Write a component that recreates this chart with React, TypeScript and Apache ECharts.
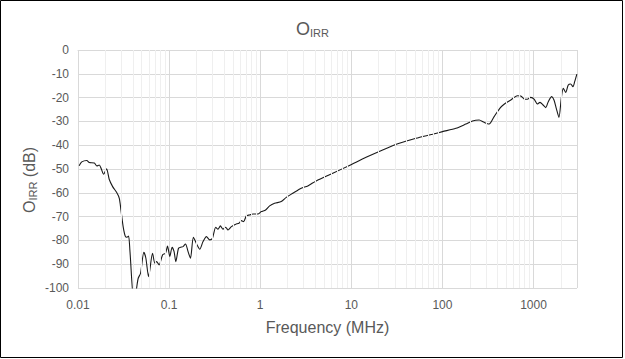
import React, { useEffect, useRef } from "react";
import * as echarts from "echarts";

const freqMHz: number[] = [
  0.0103, 0.011, 0.0125, 0.0133, 0.0151, 0.0161, 0.0171, 0.018, 0.0191, 0.0206,
  0.022, 0.024, 0.0265, 0.0284, 0.0296, 0.0313, 0.033, 0.0344, 0.0359, 0.0371,
  0.041, 0.042, 0.044, 0.0458, 0.0486, 0.0528, 0.0556, 0.0595, 0.0658, 0.0697,
  0.0728, 0.0777, 0.0847, 0.0913, 0.0961, 0.1018, 0.1079, 0.1134, 0.1184, 0.1268,
  0.1333, 0.1423, 0.1512, 0.1615, 0.1716, 0.1848, 0.2026, 0.2169, 0.2357, 0.2568,
  0.2791, 0.2988, 0.3248, 0.3441, 0.3656, 0.3904, 0.4178, 0.4429, 0.4826, 0.5378,
  0.5846, 0.6209, 0.6579, 0.7045, 0.7655, 0.8318, 0.9436, 1.028, 1.146, 1.268,
  1.438, 1.702, 1.932, 2.281, 2.82, 3.331, 4.117, 6.257, 9.533, 14.53,
  22.07, 33.63, 51.25, 77.93, 100.3, 140.6, 180.9, 213.7, 253.1, 287,
  325.5, 369.4, 426.4, 475.3, 562.8, 664.7, 724.1, 807, 855, 932,
  1013, 1101, 1178, 1271, 1360, 1452, 1582, 1677, 1777, 1902,
  2016, 2121, 2253, 2406, 2555, 2708, 2828, 2990,
];

const oirrDb: number[] = [
  -48.6, -47.0, -46.4, -47.3, -47.5, -48.7, -48.3, -49.9, -52.2, -49.9,
  -54.3, -57.4, -59.8, -62.3, -67.2, -74.2, -78.2, -78.7, -78.2, -84.0,
  -106, -106, -100, -95.9, -93.8, -85.0, -87.5, -95.2, -85.4, -89.6,
  -88.9, -90.3, -86.1, -85.4, -82.4, -86.8, -82.9, -84.7, -88.9, -83.3,
  -82.9, -82.6, -81.5, -84.7, -87.5, -78.7, -81.9, -83.7, -80.5, -78.4,
  -79.8, -79.1, -74.5, -75.3, -73.9, -75.3, -74.5, -75.6, -74.2, -73.2,
  -72.8, -71.7, -72.1, -69.7, -69.3, -68.9, -68.9, -67.9, -67.2, -65.5,
  -64.4, -63.7, -61.9, -60.2, -58.1, -57.1, -55.0, -51.8, -48.5, -45.1,
  -42.0, -39.2, -37.1, -35.4, -34.3, -32.9, -31.1, -29.8, -29.4, -30.4,
  -31.1, -28.0, -24.5, -22.8, -21.0, -19.2, -19.3, -20.7, -20.7, -19.9,
  -20.6, -22.7, -22.0, -23.1, -24.2, -21.7, -19.6, -21.0, -24.5, -28.3,
  -20.3, -16.1, -17.8, -14.7, -14.3, -15.4, -13.3, -10.1,
];

const xTickLabels: number[] = [0.01, 0.1, 1, 10, 100, 1000];
const minorGridFreqs: number[] = [
  0.02, 0.03, 0.04, 0.05, 0.06, 0.07, 0.08, 0.09,
  0.2, 0.3, 0.4, 0.5, 0.6, 0.7, 0.8, 0.9,
  2, 3, 4, 5, 6, 7, 8, 9,
  20, 30, 40, 50, 60, 70, 80, 90,
  200, 300, 400, 500, 600, 700, 800, 900,
  2000,
];

const FONT = "'Liberation Sans', Arial, sans-serif";
const GREY = "#595959";

export default function App() {
  const ref = useRef<HTMLDivElement>(null);

  useEffect(() => {
    document.body.style.margin = "0";
    if (!ref.current) return;
    const chart = echarts.init(ref.current, undefined, { renderer: "svg" });
    const data = freqMHz.map((f, i) => [f, oirrDb[i]]);
    chart.setOption({
      animation: false,
      backgroundColor: "#ffffff",
      textStyle: { fontFamily: FONT },
      title: {
        text: "{a|O}{b|IRR}",
        left: "center",
        top: 14,
        textStyle: {
          fontWeight: "normal",
          rich: {
            a: { fontSize: 18, color: GREY, fontFamily: FONT, fontWeight: "normal" },
            b: { fontSize: 11, color: GREY, fontFamily: FONT, fontWeight: "normal", verticalAlign: "bottom", padding: [8, 0, 0, 0] },
          },
        },
      },
      grid: { left: 78, right: 48, top: 50, bottom: 71, containLabel: false },
      xAxis: {
        type: "log",
        logBase: 10,
        min: 0.01,
        max: 3000,
        name: "Frequency (MHz)",
        nameLocation: "middle",
        nameGap: 31,
        nameTextStyle: { fontSize: 16, color: GREY, fontFamily: FONT },
        axisLine: { show: true, lineStyle: { color: "#d9d9d9", width: 1 } },
        axisTick: { show: false },
        splitLine: { show: true, lineStyle: { color: "#d9d9d9", width: 1 } },
        axisLabel: {
          color: GREY,
          fontSize: 12,
          fontFamily: FONT,
          margin: 11,
          formatter: (v: number) => {
            const hit = xTickLabels.find((t) => Math.abs(t - v) / t < 1e-6);
            return hit !== undefined ? String(hit) : "";
          },
        },
      },
      yAxis: {
        type: "value",
        min: -100,
        max: 0,
        interval: 10,
        axisLine: { show: false },
        axisTick: { show: false },
        splitLine: { show: true, lineStyle: { color: "#d9d9d9", width: 1 } },
        axisLabel: { color: GREY, fontSize: 12, fontFamily: FONT, margin: 9 },
      },
      graphic: [
        {
          type: "rect",
          shape: { x: 0.5, y: 0.5, width: 622, height: 357 },
          style: { fill: "none", stroke: "#000000", lineWidth: 1 },
          silent: true,
        },
        {
          type: "text",
          x: 29,
          y: 180,
          rotation: Math.PI / 2,
          style: {
            text: "{a|O}{b|IRR}{a| (dB)}",
            align: "center",
            verticalAlign: "middle",
            rich: {
              a: { fontSize: 16, fill: GREY, fontFamily: FONT },
              b: { fontSize: 11, fill: GREY, fontFamily: FONT, verticalAlign: "bottom", padding: [7, 0, 0, 0] },
            },
          },
          silent: true,
        },
      ],
      series: [
        {
          type: "line",
          data: [],
          z: 1,
          silent: true,
          markLine: {
            silent: true,
            symbol: "none",
            animation: false,
            label: { show: false },
            lineStyle: { color: "#efefef", type: "solid", width: 1 },
            data: minorGridFreqs.map((f) => ({ xAxis: f })),
          },
        },
        {
          type: "line",
          data,
          z: 3,
          showSymbol: false,
          smooth: 0.25,
          clip: true,
          lineStyle: { color: "#1a1a1a", width: 1.1 },
        },
      ],
    });
    return () => chart.dispose();
  }, []);

  return <div ref={ref} style={{ width: 625, height: 359 }} />;
}
